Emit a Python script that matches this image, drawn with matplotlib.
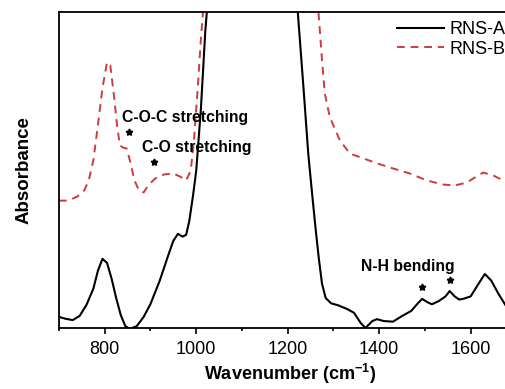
import matplotlib
matplotlib.use("Agg")
import matplotlib.pyplot as plt
from matplotlib.ticker import MultipleLocator, NullLocator

plt.rcParams['font.family'] = ['Liberation Sans', 'DejaVu Sans']

# FTIR spectra (arbitrary absorbance units)
wn_a = [700, 715, 730, 745, 760, 775, 785, 795, 805, 815, 825, 835, 845, 855,
        870, 885, 900, 920, 940, 950, 960, 970, 978, 985, 993, 1000, 1010, 1020,
        1040, 1080, 1100, 1150, 1200, 1222, 1235, 1245, 1255, 1262, 1268, 1275,
        1283, 1295, 1310, 1330, 1345, 1360, 1370, 1385, 1395, 1410, 1430, 1450,
        1470, 1485, 1494, 1505, 1515, 1530, 1545, 1554, 1565, 1575, 1583, 1600,
        1615, 1631, 1645, 1660, 1677, 1695, 1710]
abs_a = [0.035, 0.029, 0.025, 0.038, 0.073, 0.124, 0.181, 0.219, 0.206, 0.156,
         0.095, 0.041, 0.006, -0.003, 0.006, 0.035, 0.076, 0.149, 0.235, 0.276,
         0.298, 0.289, 0.295, 0.340, 0.419, 0.498, 0.689, 0.943,
         1.30, 1.80, 2.00, 1.90, 1.40, 1.00, 0.75, 0.55, 0.40, 0.30, 0.22, 0.14,
         0.095, 0.078, 0.072, 0.060, 0.048, 0.015, 0.0, 0.022, 0.028, 0.022,
         0.020, 0.038, 0.054, 0.079, 0.092, 0.082, 0.075, 0.085, 0.100, 0.117,
         0.100, 0.090, 0.092, 0.100, 0.135, 0.171, 0.150, 0.110, 0.070, 0.040,
         0.030]

wn_b = [700, 720, 740, 755, 765, 775, 785, 795, 805, 812, 820, 827, 833, 840,
        848, 855, 865, 875, 885, 895, 910, 930, 950, 965, 978, 988, 995, 1003,
        1010, 1015, 1030, 1100, 1200, 1250, 1268, 1275, 1281, 1292, 1314, 1336,
        1365, 1395, 1430, 1467, 1504, 1540, 1565, 1591, 1627, 1649, 1671, 1690,
        1710]
abs_b = [0.403, 0.403, 0.416, 0.435, 0.467, 0.530, 0.641, 0.759, 0.841, 0.832,
         0.737, 0.641, 0.578, 0.571, 0.568, 0.530, 0.467, 0.435, 0.429, 0.451,
         0.473, 0.486, 0.489, 0.479, 0.467, 0.498, 0.594, 0.752, 0.911, 1.006,
         1.30, 2.10, 1.90, 1.30, 0.984, 0.848, 0.743, 0.667, 0.594, 0.552,
         0.537, 0.521, 0.505, 0.489, 0.467, 0.454, 0.451, 0.460, 0.492, 0.483,
         0.467, 0.450, 0.440]

series_labels = ['RNS-A', 'RNS-B']

# Band assignments and the peaks they mark
band_labels = ['C-O-C stretching', 'C-O stretching', 'N-H bending']
star_x = [852, 907, 1493, 1555]
star_y = [0.62, 0.525, 0.13, 0.152]

fig = plt.figure(figsize=(5.06, 3.89), dpi=100)
ax = fig.add_axes([59 / 506, 1 - 328 / 389, 462 / 506, 316 / 389])

ax.plot(wn_a, abs_a, color='black', lw=1.5, label=series_labels[0])
ax.plot(wn_b, abs_b, color='#d03a3a', lw=1.4, dashes=(4, 3),
        label=series_labels[1])

ax.set_xlim(700, 1710)
ax.set_ylim(0, 1.0)
ax.xaxis.set_major_locator(MultipleLocator(200))
ax.xaxis.set_minor_locator(MultipleLocator(100))
ax.yaxis.set_major_locator(NullLocator())
ax.tick_params(axis='x', which='both', direction='out', labelsize=13,
               width=1.2, pad=5)
ax.tick_params(axis='x', which='major', length=4.5)
ax.tick_params(axis='x', which='minor', length=2.5)
for s in ax.spines.values():
    s.set_linewidth(1.3)

ax.set_xlabel('Wavenumber (cm$^{\\mathregular{-1}}$)', fontsize=13,
              fontweight='bold', labelpad=3)
ax.set_ylabel('Absorbance', fontsize=13.5, fontweight='bold', labelpad=19)

ann_kw = dict(fontsize=11.3, fontweight='bold', va='center', ha='left')
ax.text(838, 0.667, band_labels[0], **ann_kw)
ax.text(882, 0.572, band_labels[1], **ann_kw)
ax.text(1360, 0.195, band_labels[2], **ann_kw)
ax.plot(star_x, star_y, ls='none', marker=(5, 1, 0), ms=5, color='black')

leg = ax.legend(loc='upper left', bbox_to_anchor=(388 / 506, 1 - 12 / 389),
                bbox_transform=fig.transFigure, frameon=False, fontsize=13,
                handlelength=2.6, handletextpad=0.33, labelspacing=0.15,
                borderpad=0)

fig.savefig('out.png', dpi=100)
